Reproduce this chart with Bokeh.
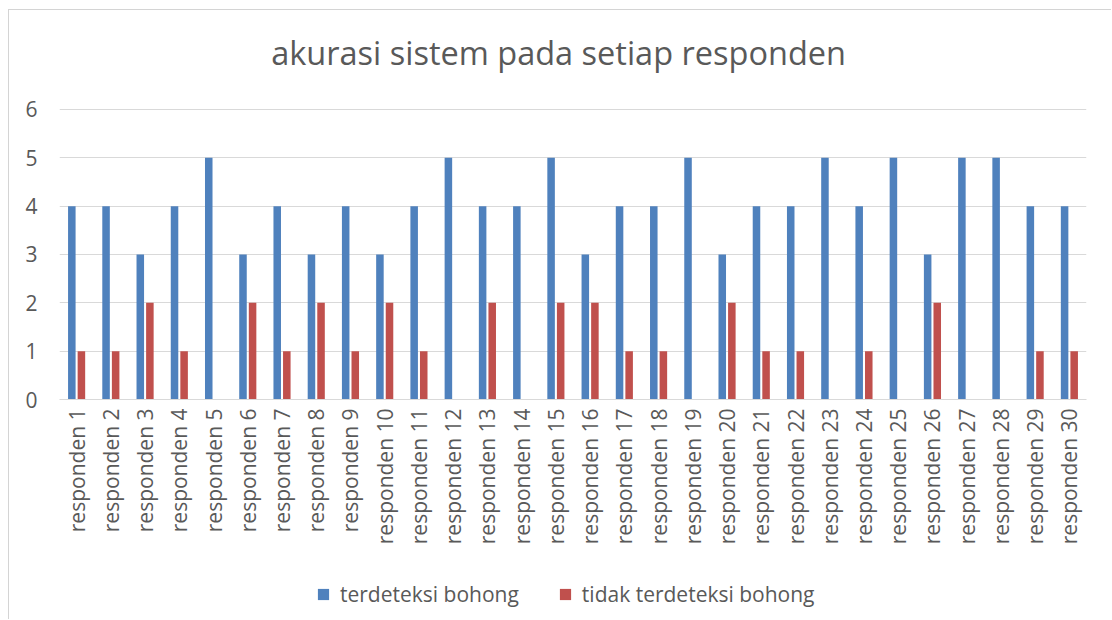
import math
from bokeh.plotting import figure
from bokeh.layouts import column
from bokeh.models import (FactorRange, ColumnDataSource, Legend, LegendItem,
                          FixedTicker, Range1d, Label)
from bokeh.transform import dodge
from bokeh.embed import file_html
from bokeh.resources import INLINE

categories = [f"responden {i}" for i in range(1, 31)]
terdeteksi = [4, 4, 3, 4, 5, 3, 4, 3, 4, 3, 4, 5, 4, 4, 5, 3, 4, 4, 5, 3, 4, 4, 5, 4, 5, 3, 5, 5, 4, 4]
tidak_terdeteksi = [1, 1, 2, 1, 0, 2, 1, 2, 1, 2, 1, 0, 2, 0, 2, 2, 1, 1, 0, 2, 1, 1, 0, 1, 0, 2, 0, 0, 1, 1]
y_ticks = [0, 1, 2, 3, 4, 5, 6]
title_text = "akurasi sistem pada setiap responden"
series_names = ["terdeteksi bohong", "tidak terdeteksi bohong"]
colors = ["#4F81BD", "#C0504D"]

TEXT = "#595959"
GRID = "#D9D9D9"
FONT = "Open Sans"
W = 1103

# ---- title strip (pixel coordinates, y downward) ----
TH = 80
ts = figure(width=W, height=TH, output_backend="svg", toolbar_location=None,
            x_range=Range1d(0, W), y_range=Range1d(TH, 0),
            x_axis_location=None, y_axis_location=None,
            min_border=0, min_border_left=0, min_border_right=0,
            min_border_top=0, min_border_bottom=0)
ts.grid.visible = False
ts.outline_line_color = None
ts.add_layout(Label(x=536, y=42, text=title_text, text_align="center",
                    text_baseline="alphabetic", text_font=FONT,
                    text_font_size="32.5px", text_color=TEXT))

# ---- main chart ----
src = ColumnDataSource(dict(cat=categories, a=terdeteksi, b=tidak_terdeteksi))

p = figure(x_range=FactorRange(factors=categories, range_padding=0),
           y_range=(0, 6.02), width=W, height=460,
           output_backend="svg", toolbar_location=None,
           min_border_left=50, min_border_right=26,
           min_border_top=18, min_border_bottom=151)

r1 = p.vbar(x=dodge("cat", -0.14, range=p.x_range), top="a", width=0.22,
            source=src, fill_color=colors[0], line_color=None)
r2 = p.vbar(x=dodge("cat", 0.14, range=p.x_range), top="b", width=0.22,
            source=src, fill_color=colors[1], line_color=None)

p.outline_line_color = None
p.xgrid.grid_line_color = None
p.ygrid.grid_line_color = GRID
p.ygrid.grid_line_width = 1

p.yaxis.ticker = FixedTicker(ticks=y_ticks)
p.yaxis.axis_line_color = None
p.yaxis.major_tick_line_color = None
p.yaxis.minor_tick_line_color = None
p.yaxis.major_tick_out = 0
p.yaxis.major_tick_in = 0
p.yaxis.major_label_text_font = FONT
p.yaxis.major_label_text_font_size = "21px"
p.yaxis.major_label_text_color = TEXT
p.yaxis.major_label_standoff = 22

p.xaxis.axis_line_color = GRID
p.xaxis.major_tick_line_color = None
p.xaxis.minor_tick_line_color = None
p.xaxis.major_tick_out = 0
p.xaxis.major_tick_in = 0
p.xaxis.major_label_orientation = math.pi / 2
p.xaxis.major_label_text_font = FONT
p.xaxis.major_label_text_font_size = "21px"
p.xaxis.major_label_text_color = TEXT
p.xaxis.major_label_standoff = 9

# ---- legend strip ----
lg = figure(width=W, height=70, output_backend="svg", toolbar_location=None,
            x_range=Range1d(0, 1), y_range=Range1d(0, 1),
            x_axis_location=None, y_axis_location=None,
            min_border=0, min_border_left=0, min_border_right=0,
            min_border_top=0, min_border_bottom=0)
lg.grid.visible = False
lg.outline_line_color = None
hidden = ColumnDataSource(dict(x=[-5.0], top=[-5.0]))
l1 = lg.vbar(x="x", top="top", width=0.1, source=hidden, fill_color=colors[0], line_color=None)
l2 = lg.vbar(x="x", top="top", width=0.1, source=hidden, fill_color=colors[1], line_color=None)

legend = Legend(items=[LegendItem(label=series_names[0], renderers=[l1]),
                       LegendItem(label=series_names[1], renderers=[l2])],
                orientation="horizontal", location=(257, 12),
                padding=0, margin=0, spacing=39,
                glyph_width=14, glyph_height=14, label_height=26,
                label_standoff=10,
                label_text_font=FONT, label_text_font_size="21px",
                label_text_color=TEXT,
                border_line_color=None, background_fill_alpha=0)
lg.add_layout(legend, "center")

layout = column(ts, p, lg, spacing=0)
layout.styles = {"margin": "10px 0 0 9px", "box-shadow": "-1px -1px 0 0 #d4d4d4"}

open("out.html", "w").write(file_html(layout, INLINE))
